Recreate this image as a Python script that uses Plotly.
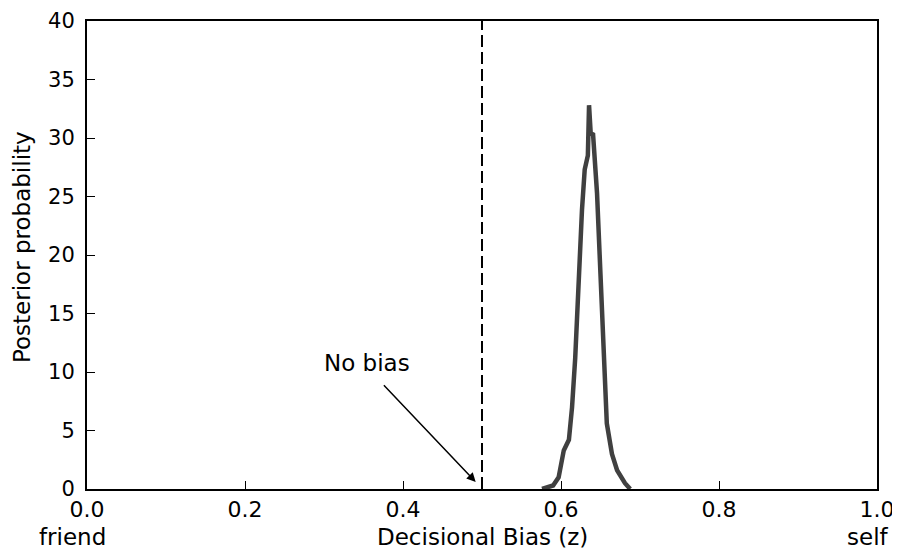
import plotly.graph_objects as go

# Posterior density of decisional bias z
z_vals = [0.576, 0.590, 0.597, 0.6035, 0.610, 0.614, 0.618, 0.6225, 0.6266, 0.630,
          0.634, 0.6355, 0.6376, 0.6406, 0.6456, 0.650, 0.654, 0.658, 0.6645, 0.671,
          0.681, 0.6876]
density = [0, 0.3, 1.0, 3.3, 4.2, 7.0, 11.2, 18.3, 23.9, 27.3,
           28.5, 32.8, 30.4, 30.3, 25.3, 18.3, 11.2, 5.6, 3.0, 1.6,
           0.5, 0]

no_bias_x = 0.5
x_ticks = [0.0, 0.2, 0.4, 0.6, 0.8, 1.0]
y_ticks = [0, 5, 10, 15, 20, 25, 30, 35, 40]

FONT = "DejaVu Sans"
TICK = 22
LBL = 23

fig = go.Figure()
fig.add_trace(go.Scatter(x=z_vals, y=density, mode="lines",
                         line=dict(color="#404040", width=4.5), showlegend=False,
                         hoverinfo="skip"))
fig.add_trace(go.Scatter(x=[no_bias_x, no_bias_x], y=[0, 40], mode="lines",
                         line=dict(color="black", width=2, dash="12px,5px"),
                         showlegend=False, hoverinfo="skip"))

fig.update_layout(
    width=892, height=548,
    margin=dict(l=79, r=23, t=13, b=67, autoexpand=False),
    paper_bgcolor="white", plot_bgcolor="white",
    font=dict(family=FONT, size=TICK, color="black"),
    xaxis=dict(range=[0, 1], tickvals=x_ticks, tickformat=".1f",
               ticks="inside", ticklen=8, tickwidth=1, tickcolor="black",
               showline=True, linecolor="black", linewidth=2, mirror=True,
               showgrid=False, zeroline=False, automargin=False,
               ticklabeloverflow="allow",
               tickfont=dict(family=FONT, size=TICK), ticklabelstandoff=0),
    yaxis=dict(range=[0, 40], tickvals=y_ticks,
               ticks="inside", ticklen=8, tickwidth=1, tickcolor="black",
               showline=True, linecolor="black", linewidth=2, mirror=True,
               showgrid=False, zeroline=False, automargin=False,
               ticklabeloverflow="allow",
               tickfont=dict(family=FONT, size=21), ticklabelstandoff=6),
    annotations=[
        dict(text="Decisional Bias (z)", x=0.5, xref="paper", y=0, yref="paper",
             yanchor="middle", xanchor="center", yshift=-48, showarrow=False,
             font=dict(family=FONT, size=LBL)),
        dict(text="friend", x=-0.063, xref="paper", y=0, yref="paper",
             yanchor="middle", xanchor="left", yshift=-48, showarrow=False,
             font=dict(family=FONT, size=LBL)),
        dict(text="self", x=1.018, xref="paper", y=0, yref="paper",
             yanchor="middle", xanchor="right", yshift=-48, showarrow=False,
             font=dict(family=FONT, size=LBL)),
        dict(text="Posterior probability", x=0, xref="paper", y=0.5, yref="paper",
             xanchor="center", yanchor="middle", xshift=-65, yshift=8,
             textangle=-90, showarrow=False, font=dict(family=FONT, size=LBL)),
        dict(text="No bias", x=0.354, xref="x", y=10.8, yref="y",
             xanchor="center", yanchor="middle", showarrow=False,
             font=dict(family=FONT, size=LBL)),
        dict(text="", x=0.492, xref="x", y=0.6, yref="y",
             ax=0.374, axref="x", ay=9.0, ayref="y",
             showarrow=True, arrowhead=2, arrowsize=1.2, arrowwidth=1.5,
             arrowcolor="black"),
    ],
)

fig.write_html("out.html")
